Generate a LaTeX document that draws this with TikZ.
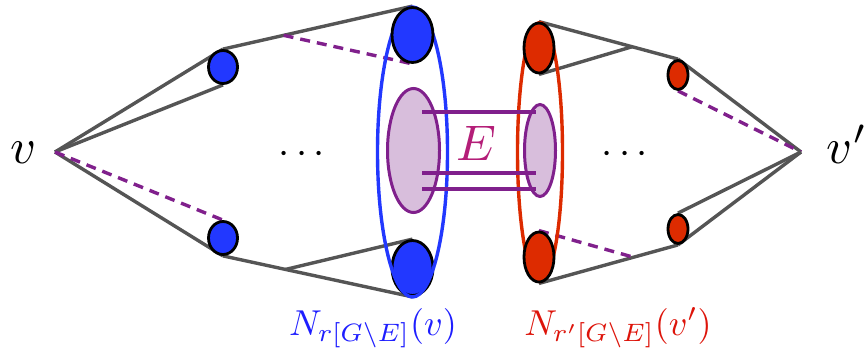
\documentclass[tikz,border=0pt]{standalone}
\usepackage{amsmath,amssymb}
\usetikzlibrary{shapes.geometric}
\definecolor{nblue}{RGB}{34,56,255}
\definecolor{nred}{RGB}{221,43,0}
\definecolor{epurple}{RGB}{128,32,140}
\definecolor{lpurple}{RGB}{216,190,220}
\definecolor{emag}{RGB}{180,30,120}
\definecolor{lgray}{RGB}{85,85,85}
\definecolor{lblue}{RGB}{30,30,255}
\definecolor{lred}{RGB}{221,20,10}
\pgfdeclarelayer{bg}
\pgfsetlayers{bg,main}
\tikzset{
  ball/.style={ellipse, draw=black, line width=2.8pt, inner sep=0pt},
  bigblue/.style={ball, fill=nblue, minimum width=41pt, minimum height=55pt},
  smallblue/.style={ball, fill=nblue, minimum width=29pt, minimum height=33pt},
  bigred/.style={ball, fill=nred, minimum width=30pt, minimum height=50pt},
  smallred/.style={ball, fill=nred, minimum width=20pt, minimum height=29pt},
  grp/.style={ellipse, inner sep=0pt, line width=3.4pt},
  inell/.style={ellipse, draw=epurple, fill=lpurple, line width=3pt, inner sep=0pt},
  gedge/.style={draw=lgray, line width=3.4pt},
  dedge/.style={draw=epurple, line width=3.4pt, dash pattern=on 10pt off 7pt},
  eline/.style={draw=epurple, line width=4.2pt},
  biglab/.style={scale=5, transform shape, inner sep=0pt, anchor=base},
  dotlab/.style={scale=4, transform shape, inner sep=0pt, anchor=base},
  sublab/.style={scale=3.6, transform shape, inner sep=0pt, anchor=base},
}
\begin{document}
\begin{tikzpicture}[x=1pt,y=-1pt]
\useasboundingbox (0,0) rectangle (867,349);
% end points
\coordinate (v) at (55,152);
\coordinate (vp) at (801,152);
% inner purple ellipses
\node[inell, minimum width=52pt, minimum height=124pt] (L) at (413.5,150.5) {};
\node[inell, minimum width=31pt, minimum height=92pt] (R) at (540,150.5) {};
% nodes and group ellipses
\node[smallblue] (a1) at (223,67) {};
\node[smallblue] (a2) at (223,238) {};
\node[bigblue] (B2) at (412.5,268) {};
\node[grp, draw=nblue, minimum width=70pt, minimum height=290pt] (GB) at (412.5,152) {};
\node[bigblue] (B1) at (412.5,35) {};
\node[grp, draw=nred, minimum width=45pt, minimum height=259pt] (GR) at (540,152) {};
\node[bigred] (R1) at (539,48) {};
\node[bigred] (R2) at (539,257) {};
\node[smallred] (r1) at (678,75) {};
\node[smallred] (r2) at (678,229) {};
% connectors
\begin{pgfonlayer}{bg}
\draw[gedge] (v) -- (a1.north);
\draw[gedge] (v) -- (a1.south);
\draw[gedge] (v) -- (a2.south);
\draw[dedge] (v) -- (a2.north);
\draw[gedge] (a1.north) -- (B1.north) coordinate[pos=0.32] (m1);
\draw[dedge] (m1) -- (B1.south);
\draw[gedge] (a2.south) -- (B2.south) coordinate[pos=0.33] (m2);
\draw[gedge] (m2) -- (B2.north);
\draw[gedge] (R1.north) -- (r1.north) coordinate[pos=0.67] (m3);
\draw[gedge] (R1.south) -- (m3);
\draw[gedge] (r1.north) -- (vp);
\draw[dedge] (r1.south) -- (vp);
\draw[gedge] (vp) -- (r2.north);
\draw[gedge] (vp) -- (r2.south);
\draw[gedge] (r2.south) -- (R2.south) coordinate[pos=0.32] (m4);
\draw[dedge] (R2.north) -- (m4);
\end{pgfonlayer}
% E edges
\coordinate (e1l) at (422,112); \coordinate (e1r) at (536,112);
\coordinate (e2l) at (422,173); \coordinate (e2r) at (536,173);
\coordinate (e3l) at (422,189); \coordinate (e3r) at (536,189);
\draw[eline] (e1l) -- (e1r);
\draw[eline] (e2l) -- (e2r);
\draw[eline] (e3l) -- (e3r);
% labels
\node[biglab, emag] (E) at (476,160) {$E$};
\node[biglab] (vl) at (23.5,163) {$v$};
\node[biglab] (vpl) at (847,163) {$v'$};
\node[dotlab] (d1) at (305,163) {$\cdots$};
\node[dotlab] (d2) at (628,163) {$\cdots$};
\node[sublab, lblue] (NB) at (373,335) {$N_{r[G\setminus E]}(v)$};
\node[sublab, lred] (NR) at (618,335) {$N_{r'[G\setminus E]}(v')$};
\end{tikzpicture}
\end{document}
